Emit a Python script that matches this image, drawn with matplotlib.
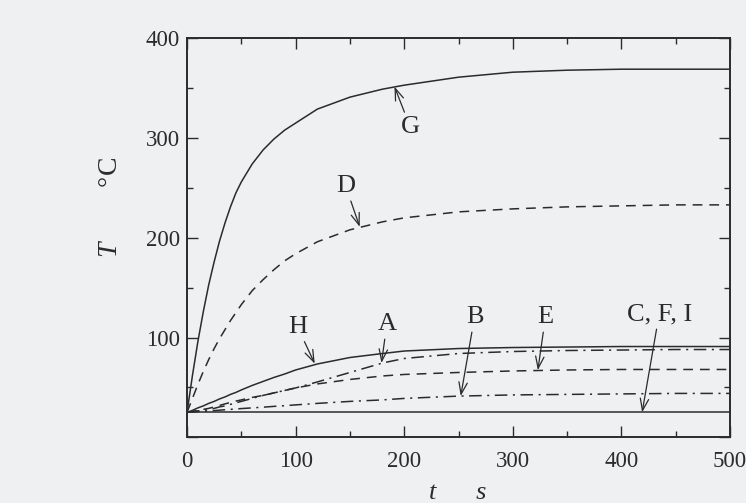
import matplotlib
matplotlib.use("Agg")
import matplotlib.pyplot as plt
from matplotlib.ticker import MultipleLocator

# time grid (s) and temperature histories (deg C) for each case
t = [0, 5, 10, 15, 20, 25, 30, 35, 40, 45, 50, 60, 70, 80, 90, 100, 120, 150,
     180, 200, 250, 300, 350, 400, 450, 500]
T_G = [25, 62, 96, 126, 153, 176, 197, 215, 231, 245, 256, 274, 288, 299, 308,
       315, 329, 341, 349, 353, 361, 366, 368, 369, 369, 369]
T_D = [25, 39, 53, 66, 78, 89, 99, 108, 117, 125, 133, 147, 158, 168, 177,
       184, 196, 208, 216, 220, 226, 229, 231, 232, 233, 233]
T_H = [25, 27, 29.5, 31.5, 34, 36, 38.5, 40.5, 43, 45, 47.5, 52, 56, 60, 63.5,
       67.5, 73.5, 80, 84, 86.5, 89, 90, 90.5, 91, 91, 91]
T_A = [25, 25.5, 26.5, 27, 28, 29, 30.5, 31.5, 33, 34.5, 36, 39, 42, 44.5, 47,
       49.5, 55.5, 65, 74.5, 79, 84, 86, 87, 87.5, 88, 88]
T_E = [25, 26, 27, 28, 29, 30.5, 32, 33.5, 35, 36.3, 37.5, 40, 42, 44.5, 47,
       49.5, 53.5, 58, 61.5, 63, 65, 66.5, 67.5, 68, 68, 68]
T_B = [25, 25.4, 25.8, 26.1, 26.5, 26.8, 27.2, 27.6, 28, 28.4, 28.8, 29.5, 30.2,
       31, 31.7, 32.5, 34, 36, 37.5, 39, 41.3, 42.5, 43, 43.5, 44, 44]
T_CFI = [25] * len(t)

x_ticks = [0, 100, 200, 300, 400, 500]
y_ticks = [0, 100, 200, 300, 400]
y_tick_labels = ["", "100", "200", "300", "400"]

# curve labels: (text, label position, arrow tip)
labels = [
    ("G", (205.6, 310.8), (191, 351.5)),
    ("D", (146, 252), (159, 211)),
    ("H", (101.6, 111), (117.6, 73.8)),
    ("A", (184, 113.6), (179, 74.5)),
    ("B", (264.7, 120.6), (252, 41.4)),
    ("E", (330, 120.6), (323, 67.3)),
    ("C, F, I", (434.7, 123.6), (419, 25)),
]

ink = "#2b2b2b"
bg = "#eff0f2"

plt.rcParams["font.family"] = ["Liberation Serif", "DejaVu Serif"]
plt.rcParams["mathtext.fontset"] = "custom"
plt.rcParams["mathtext.it"] = "Liberation Serif:italic"
plt.rcParams["mathtext.rm"] = "Liberation Serif"
plt.rcParams["lines.scale_dashes"] = False

fig = plt.figure(figsize=(7.46, 5.03), dpi=100, facecolor=bg)
ax = fig.add_axes([0.2507, 0.1306, 0.728, 0.7933], facecolor=bg)

lw = 1.1
dash = (0, (7, 5))
dashdot = (0, (9, 4, 1.5, 4))

ax.plot(t, T_G, color=ink, lw=lw, ls="-")
ax.plot(t, T_D, color=ink, lw=lw, ls=dash)
ax.plot(t, T_H, color=ink, lw=lw, ls="-")
ax.plot(t, T_A, color=ink, lw=lw, ls=dashdot)
ax.plot(t, T_E, color=ink, lw=lw, ls=dash)
ax.plot(t, T_B, color=ink, lw=lw, ls=dashdot)
ax.plot(t, T_CFI, color=ink, lw=lw, ls="-")

for text, pos, tip in labels:
    ax.annotate(text, xy=tip, xytext=pos, ha="center", va="center",
                fontsize=19, color=ink,
                arrowprops=dict(arrowstyle="->, head_length=0.45, head_width=0.16",
                                color=ink, lw=0.9, shrinkA=1, shrinkB=0))

ax.set_xlim(0, 500)
ax.set_ylim(0, 400)
ax.set_xticks(x_ticks)
ax.set_yticks(y_ticks)
ax.set_yticklabels(y_tick_labels)
ax.xaxis.set_minor_locator(MultipleLocator(50))
ax.yaxis.set_minor_locator(MultipleLocator(50))
ax.tick_params(which="both", direction="in", top=True, right=True,
               color=ink, labelcolor=ink, labelsize=16.5, width=1)
ax.tick_params(which="major", length=8)
ax.tick_params(which="minor", length=4.5)
ax.tick_params(axis="x", pad=10)
ax.tick_params(axis="y", pad=5)
for s in ax.spines.values():
    s.set_linewidth(1.4)
    s.set_color(ink)

ax.set_xlabel("t      s", style="italic", fontsize=19, color=ink)
ax.xaxis.set_label_coords(0.498, -0.113)
ax.set_ylabel(r"$T$        °C", fontsize=20, color=ink)
ax.yaxis.set_label_coords(-0.118, 0.575)

fig.savefig("out.png", dpi=100, facecolor=bg)
